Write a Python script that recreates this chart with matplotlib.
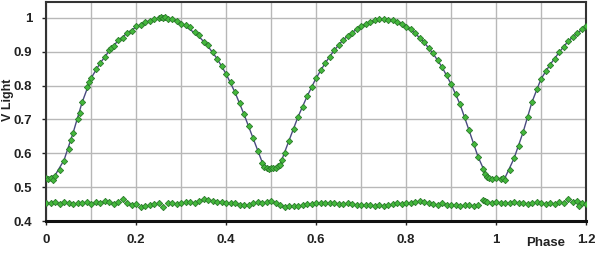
import matplotlib
matplotlib.use("Agg")
import matplotlib.pyplot as plt
import numpy as np

# model light curve
model_phase = [0.00, 0.02, 0.04, 0.06, 0.08, 0.10, 0.12, 0.14, 0.16, 0.18,
               0.20, 0.22, 0.24, 0.26, 0.28, 0.30, 0.32, 0.34, 0.36, 0.38,
               0.40, 0.42, 0.44, 0.46, 0.48, 0.49, 0.50, 0.51, 0.52, 0.54,
               0.56, 0.58, 0.60, 0.62, 0.64, 0.66, 0.68, 0.70, 0.72, 0.74,
               0.76, 0.78, 0.80, 0.82, 0.84, 0.86, 0.88, 0.90, 0.92, 0.94,
               0.96, 0.98, 0.99, 1.00, 1.01, 1.02, 1.04, 1.06, 1.08, 1.10,
               1.12, 1.14, 1.16, 1.18, 1.20]
model_v = [0.525, 0.535, 0.580, 0.660, 0.750, 0.822, 0.866, 0.902, 0.933, 0.955,
           0.973, 0.987, 0.996, 1.000, 0.995, 0.983, 0.966, 0.945, 0.916, 0.880,
           0.835, 0.780, 0.715, 0.645, 0.575, 0.560, 0.556, 0.558, 0.567, 0.638,
           0.708, 0.768, 0.822, 0.866, 0.904, 0.935, 0.957, 0.975, 0.988, 0.996,
           0.996, 0.988, 0.974, 0.955, 0.928, 0.895, 0.855, 0.805, 0.745, 0.668,
           0.590, 0.530, 0.525, 0.524, 0.524, 0.528, 0.585, 0.662, 0.752, 0.820,
           0.862, 0.898, 0.931, 0.955, 0.975]

# observed points
obs_phase = [0.000, 0.005, 0.010, 0.015, 0.020, 0.030, 0.040, 0.050, 0.055, 0.060,
             0.070, 0.075, 0.080, 0.090, 0.095, 0.100, 0.110, 0.120, 0.130, 0.140,
             0.145, 0.150, 0.160, 0.170, 0.180, 0.190, 0.200, 0.210, 0.220, 0.230,
             0.240, 0.250, 0.255, 0.260, 0.265, 0.270, 0.280, 0.290, 0.300, 0.310,
             0.320, 0.330, 0.340, 0.350, 0.360, 0.370, 0.380, 0.390, 0.400, 0.410,
             0.420, 0.430, 0.440, 0.450, 0.460, 0.470, 0.480, 0.485, 0.490, 0.495,
             0.500, 0.505, 0.510, 0.515, 0.520, 0.525, 0.530, 0.540, 0.550, 0.560,
             0.570, 0.580, 0.590, 0.600, 0.610, 0.620, 0.630, 0.640, 0.650, 0.660,
             0.670, 0.680, 0.690, 0.700, 0.710, 0.720, 0.730, 0.740, 0.750, 0.760,
             0.770, 0.780, 0.790, 0.800, 0.810, 0.820, 0.830, 0.840, 0.850, 0.860,
             0.870, 0.880, 0.890, 0.900, 0.910, 0.920, 0.930, 0.940, 0.950, 0.960,
             0.970, 0.975, 0.980, 0.985, 0.990, 1.000, 1.010, 1.015, 1.020, 1.030,
             1.040, 1.050, 1.060, 1.070, 1.080, 1.090, 1.100, 1.110, 1.120, 1.130,
             1.140, 1.150, 1.160, 1.170, 1.180, 1.190, 1.200]
obs_v = [0.527, 0.523, 0.528, 0.520, 0.533, 0.552, 0.578, 0.612, 0.640, 0.660,
         0.700, 0.720, 0.752, 0.795, 0.810, 0.823, 0.848, 0.866, 0.885, 0.904,
         0.912, 0.916, 0.935, 0.942, 0.955, 0.962, 0.975, 0.978, 0.988, 0.990,
         0.997, 1.000, 1.003, 0.999, 1.002, 0.998, 0.996, 0.990, 0.983, 0.978,
         0.972, 0.958, 0.950, 0.930, 0.920, 0.898, 0.880, 0.857, 0.834, 0.810,
         0.780, 0.750, 0.716, 0.680, 0.645, 0.607, 0.572, 0.560, 0.558, 0.555,
         0.556, 0.558, 0.556, 0.562, 0.566, 0.580, 0.600, 0.636, 0.672, 0.708,
         0.738, 0.768, 0.795, 0.822, 0.845, 0.866, 0.885, 0.904, 0.921, 0.935,
         0.946, 0.957, 0.967, 0.975, 0.983, 0.988, 0.993, 0.996, 0.998, 0.995,
         0.993, 0.988, 0.982, 0.974, 0.966, 0.955, 0.942, 0.928, 0.912, 0.895,
         0.876, 0.855, 0.832, 0.805, 0.776, 0.745, 0.708, 0.668, 0.628, 0.590,
         0.553, 0.540, 0.530, 0.527, 0.524, 0.526, 0.523, 0.528, 0.522, 0.552,
         0.585, 0.622, 0.662, 0.706, 0.752, 0.790, 0.820, 0.843, 0.862, 0.880,
         0.898, 0.915, 0.932, 0.945, 0.955, 0.966, 0.975]

# residuals (O-C, offset)
res_phase = [0.00, 0.01, 0.02, 0.03, 0.04, 0.05, 0.06, 0.07, 0.08, 0.09,
             0.10, 0.11, 0.12, 0.13, 0.14, 0.15, 0.16, 0.17, 0.18, 0.19,
             0.20, 0.21, 0.22, 0.23, 0.24, 0.25, 0.26, 0.27, 0.28, 0.29,
             0.30, 0.31, 0.32, 0.33, 0.34, 0.35, 0.36, 0.37, 0.38, 0.39,
             0.40, 0.41, 0.42, 0.43, 0.44, 0.45, 0.46, 0.47, 0.48, 0.49,
             0.50, 0.51, 0.52, 0.53, 0.54, 0.55, 0.56, 0.57, 0.58, 0.59,
             0.60, 0.61, 0.62, 0.63, 0.64, 0.65, 0.66, 0.67, 0.68, 0.69,
             0.70, 0.71, 0.72, 0.73, 0.74, 0.75, 0.76, 0.77, 0.78, 0.79,
             0.80, 0.81, 0.82, 0.83, 0.84, 0.85, 0.86, 0.87, 0.88, 0.89,
             0.90, 0.91, 0.92, 0.93, 0.94, 0.95, 0.96, 0.97, 0.975, 0.98,
             0.99, 1.00, 1.01, 1.02, 1.03, 1.04, 1.05, 1.06, 1.07, 1.08,
             1.09, 1.10, 1.11, 1.12, 1.13, 1.14, 1.15, 1.16, 1.17, 1.18,
             1.185, 1.19, 1.20]
res_v = [0.454, 0.452, 0.456, 0.451, 0.455, 0.453, 0.450, 0.454, 0.452, 0.455,
         0.451, 0.455, 0.452, 0.458, 0.455, 0.450, 0.455, 0.466, 0.452, 0.448,
         0.450, 0.440, 0.445, 0.447, 0.450, 0.452, 0.440, 0.452, 0.452, 0.450,
         0.452, 0.455, 0.456, 0.452, 0.460, 0.465, 0.462, 0.458, 0.456, 0.455,
         0.454, 0.452, 0.452, 0.448, 0.446, 0.446, 0.452, 0.455, 0.452, 0.456,
         0.458, 0.452, 0.446, 0.442, 0.443, 0.444, 0.445, 0.448, 0.450, 0.450,
         0.452, 0.452, 0.453, 0.452, 0.452, 0.450, 0.450, 0.452, 0.449, 0.447,
         0.446, 0.448, 0.446, 0.444, 0.447, 0.445, 0.448, 0.450, 0.452, 0.450,
         0.453, 0.452, 0.456, 0.458, 0.455, 0.453, 0.450, 0.448, 0.452, 0.448,
         0.446, 0.448, 0.445, 0.447, 0.446, 0.443, 0.448, 0.462, 0.458, 0.455,
         0.454, 0.455, 0.453, 0.454, 0.452, 0.455, 0.452, 0.454, 0.451, 0.453,
         0.455, 0.452, 0.450, 0.453, 0.451, 0.455, 0.452, 0.466, 0.455, 0.458,
         0.445, 0.452, 0.451]

fig = plt.figure(figsize=(5.98, 2.57), dpi=100)
ax = fig.add_axes([0.077, 0.140, 0.903, 0.852])

mk = dict(linestyle="none", marker="D", markersize=3.2, markerfacecolor="#44b83c",
          markeredgecolor="#2a7a2a", markeredgewidth=0.6)
ax.plot(model_phase, model_v, color="#4a4a80", linewidth=1.0, zorder=2)
ax.plot(obs_phase, obs_v, zorder=3, **mk)
ax.plot(res_phase, res_v, zorder=3, **mk)

ax.set_xlim(0, 1.2)
ax.set_ylim(0.4, 1.047)
ax.set_xticks(np.arange(0, 1.21, 0.2))
ax.set_xticklabels(["0", "0.2", "0.4", "0.6", "0.8", "1", "1.2"])
ax.set_xticks(np.arange(0, 1.21, 0.1), minor=True)
ax.set_yticks(np.arange(0.4, 1.01, 0.1))
ax.set_yticklabels(["0.4", "0.5", "0.6", "0.7", "0.8", "0.9", "1"])
ax.grid(True, which="both", color="#b8b8b8", linewidth=1.0)
ax.set_axisbelow(True)
ax.tick_params(axis="both", which="major", length=3, width=1, labelsize=9.5,
               colors="#222222")
ax.tick_params(axis="y", pad=7)
ax.tick_params(axis="x", pad=6)
ax.tick_params(axis="x", which="minor", length=0)
for lab in ax.get_xticklabels() + ax.get_yticklabels():
    lab.set_fontweight("bold")
    lab.set_fontfamily("Liberation Sans")

for side in ["top", "right", "left"]:
    ax.spines[side].set_color("#333333")
    ax.spines[side].set_linewidth(1.5)
ax.spines["bottom"].set_color("#111111")
ax.spines["bottom"].set_linewidth(2.2)

fig.text(0.014, 0.61, "V Light", rotation=90, ha="center", va="center",
         fontsize=9, fontweight="bold", family="Liberation Sans", color="#222222")
fig.text(0.912, 0.055, "Phase", ha="center", va="center",
         fontsize=9.5, fontweight="bold", family="Liberation Sans", color="#222222")

fig.savefig("out.png", dpi=100)
